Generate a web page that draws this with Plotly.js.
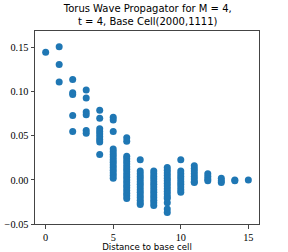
<!DOCTYPE html>
<html><head><meta charset="utf-8">
<script src="https://cdn.plot.ly/plotly-3.0.1.min.js"></script>
<style>html,body{margin:0;padding:0;background:#fff;}#chart{width:288px;height:252px;}</style>
</head><body><div id="chart"></div>
<script>
// Propagator values grouped by distance to base cell
const d0 = [0.145];
const d1 = [0.151, 0.131, 0.111];
const d2 = [0.114, 0.099, 0.097, 0.073, 0.055];
const d3 = [0.102, 0.093, 0.077, 0.074, 0.056, 0.053];
const d4 = [0.079, 0.070, 0.058, 0.055, 0.052, 0.049, 0.046, 0.043, 0.029];
const d5 = [0.071, 0.068, 0.055, 0.035, 0.032, 0.029, 0.026, 0.023, 0.020, 0.017, 0.014, 0.011, 0.008, 0.005, 0.002];
const d6 = [0.048, 0.044, 0.027, 0.024, 0.021, 0.018, 0.015, 0.012, 0.009, 0.006, 0.003, 0.000, -0.003, -0.006, -0.009, -0.012, -0.015, -0.018, -0.021];
const d7 = [0.023, 0.010, 0.007, 0.004, 0.001, -0.002, -0.005, -0.008, -0.011, -0.014, -0.017, -0.020, -0.023, -0.026, -0.028];
const d8 = [0.010, 0.007, 0.004, 0.001, -0.002, -0.005, -0.008, -0.011, -0.014, -0.017, -0.020, -0.023, -0.026, -0.029];
const d9 = [0.014, 0.011, 0.008, 0.005, 0.002, -0.001, -0.004, -0.007, -0.010, -0.013, -0.016, -0.019, -0.021, -0.026, -0.033, -0.037];
const d10 = [0.023, 0.010, 0.007, 0.004, 0.001, -0.002, -0.005, -0.008, -0.011, -0.014];
const d11 = [0.016, 0.013, 0.010, 0.007, 0.004, 0.001, -0.002, -0.003];
const d12 = [0.007, 0.004, 0.001, -0.001];
const d13 = [0.002, -0.001, -0.003];
const d14 = [0.000, -0.001];
const d15 = [0.000];
const groups = [d0, d1, d2, d3, d4, d5, d6, d7, d8, d9, d10, d11, d12, d13, d14, d15];
const xTicks = [0, 5, 10, 15];
const yTicks = [-0.05, 0.00, 0.05, 0.10, 0.15];
const yTickLabels = ['\u22120.05', '0.00', '0.05', '0.10', '0.15'];

const xs = [], ys = [];
groups.forEach((g, d) => g.forEach(v => { xs.push(d); ys.push(v); }));

const axisCol = '#444';
const tickFont = {family: 'Liberation Serif, serif', size: 10.3, color: '#000'};
Plotly.newPlot('chart', [{
  x: xs, y: ys, type: 'scatter', mode: 'markers',
  marker: {color: '#1f77b4', size: 7, line: {width: 0}}
}], {
  width: 288, height: 252,
  margin: {l: 35, r: 29, t: 31, b: 28},
  paper_bgcolor: '#fff', plot_bgcolor: '#fff',
  showlegend: false,
  title: {text: 'Torus Wave Propagator for M = 4,<br>t = 4, Base Cell(2000,1111)',
    font: {family: 'DejaVu Sans, sans-serif', size: 10, color: '#000'},
    x: 0.513, xanchor: 'center', y: 0.951, yanchor: 'middle', yref: 'container'},
  xaxis: {range: [-0.79, 15.79], tickvals: xTicks, ticks: 'outside', ticklen: 3.5, tickcolor: axisCol,
    showline: true, linecolor: axisCol, linewidth: 1, mirror: true, showgrid: false, zeroline: false,
    tickfont: tickFont, automargin: false,
    title: {text: 'Distance to base cell', font: {family: 'DejaVu Sans, sans-serif', size: 8.6, color: '#000'}}},
  yaxis: {range: [-0.05, 0.169], tickvals: yTicks, ticktext: yTickLabels, ticks: 'outside', ticklen: 3.5, tickcolor: axisCol,
    showline: true, linecolor: axisCol, linewidth: 1, mirror: true, showgrid: false, zeroline: false,
    tickfont: tickFont, automargin: false}
}, {staticPlot: true, displayModeBar: false});
</script></body></html>
